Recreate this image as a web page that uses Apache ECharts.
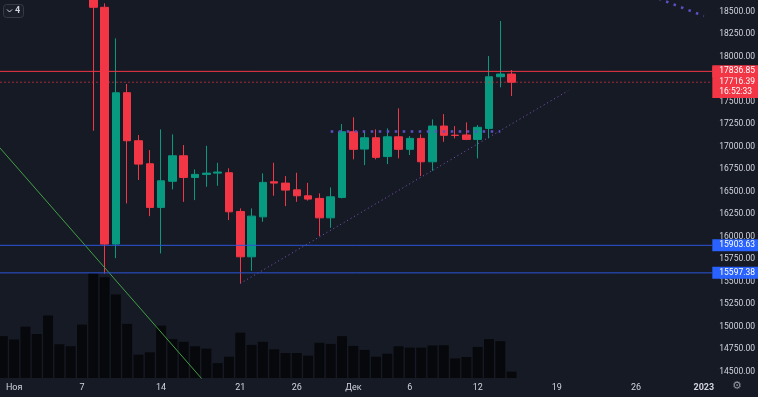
<!DOCTYPE html>
<html>
<head>
<meta charset="utf-8">
<script src="https://cdn.jsdelivr.net/npm/echarts/dist/echarts.min.js"></script>
<style>
html, body { margin: 0; padding: 0; background: #161a25; }
#chart { width: 758px; height: 397px; }
</style>
</head>
<body>
<div id="chart"></div>
<script>
var startDate = '2022-10-31';

// daily candles (earlier days sit above the visible price range)
var candleDates = [
	'2022-11-08', '2022-11-09', '2022-11-10', '2022-11-11', '2022-11-12', '2022-11-13', '2022-11-14',
	'2022-11-15', '2022-11-16', '2022-11-17', '2022-11-18', '2022-11-19', '2022-11-20', '2022-11-21',
	'2022-11-22', '2022-11-23', '2022-11-24', '2022-11-25', '2022-11-26', '2022-11-27', '2022-11-28',
	'2022-11-29', '2022-11-30', '2022-12-01', '2022-12-02', '2022-12-03', '2022-12-04', '2022-12-05',
	'2022-12-06', '2022-12-07', '2022-12-08', '2022-12-09', '2022-12-10', '2022-12-11', '2022-12-12',
	'2022-12-13', '2022-12-14', '2022-12-15'
];
var opens = [
	20600, 18549, 15917, 17600, 17066, 16810, 16325,
	16615, 16899, 16658, 16692, 16706, 16710, 16280,
	15776, 16220, 16610, 16595, 16520, 16454, 16425,
	16209, 16436, 17166, 16973, 17099, 16890, 17110,
	16970, 17092, 16832, 17229, 17128, 17130, 17081,
	17203, 17777, 17807
];
var closes = [
	18549, 15917, 17599, 17066, 16806, 16325, 16621,
	16899, 16658, 16692, 16706, 16718, 16276, 15776,
	16228, 16603, 16595, 16517, 16454, 16417, 16209,
	16443, 17166, 16970, 17099, 16881, 17110, 16970,
	17092, 16832, 17229, 17126, 17124, 17081, 17215,
	17777, 17807, 17716.39
];
var lows = [
	17177, 15590, 15761, 16369, 16629, 16228, 15813,
	16525, 16387, 16406, 16554, 16565, 16184, 15480,
	15620, 16165, 16454, 16339, 16387, 16400, 16006,
	16098, 16425, 16859, 16795, 16859, 16806, 16870,
	16907, 16673, 16732, 17054, 17092, 17073, 16870,
	17092, 17659, 17563
];
var highs = [
	20680, 18593, 18204, 17696, 17129, 16962, 17192,
	17137, 17018, 16747, 17010, 16821, 16759, 16314,
	16314, 16703, 16821, 16673, 16710, 16598, 16481,
	16547, 17251, 17326, 17166, 17192, 17203, 17426,
	17118, 17137, 17303, 17362, 17229, 17270, 17240,
	18007, 18397, 17852
];

var volumeDates = [
	'2022-10-31', '2022-11-01', '2022-11-02', '2022-11-03', '2022-11-04', '2022-11-05', '2022-11-06',
	'2022-11-07'
].concat(candleDates);
var volumes = [
	41.9, 38.5, 51.4, 44, 62.5, 33.8, 31.8,
	53.4, 104.8, 100.7, 83.5, 54.1, 23.3, 25.7,
	52.4, 38.9, 36.2, 31.8, 29.4, 14.9, 21.3,
	45.3, 33.1, 36.2, 28.7, 25, 25, 22.3,
	35.2, 34.1, 41.9, 32.1, 28.1, 21.3, 24.3,
	31.8, 30.4, 30.4, 32.5, 32.8, 19.6, 21,
	31.1, 38.9, 36.8, 6.4
];

var tickDates = ['2022-11-01', '2022-11-07', '2022-11-14', '2022-11-21', '2022-11-26', '2022-12-01',
	'2022-12-06', '2022-12-12', '2022-12-19', '2022-12-26', '2023-01-01'];
var tickLabels = ['Ноя', '7', '14', '21', '26', 'Дек', '6', '12', '19', '26', '2023'];
var priceTicks = [14500, 14750, 15000, 15250, 15500, 15750, 16000, 16250, 16500, 16750,
	17000, 17250, 17500, 18000, 18250, 18500];

var lastPrice = 17716.39;
var countdown = '16:52:33';
var resistance = 17836.85;
var supports = [15903.63, 15597.38];

// drawn trend lines
var greenLine = [['2022-10-30', 17093], ['2022-11-19', 14219]];
var riseLine = [['2022-11-21', 15480], ['2022-12-20', 17622]];
var flatLine = [['2022-11-29', 17168], ['2022-12-14', 17168]];
var fallLine = [['2022-12-28', 18645], ['2023-01-01', 18452]];

var xMin = -0.25, xMax = 62.75;

function dayIndex(d) {
	return (Date.parse(d + 'T00:00:00Z') - Date.parse(startDate + 'T00:00:00Z')) / 86400000;
}
function toPoints(line) {
	return line.map(function(p) { return [dayIndex(p[0]), p[1]]; });
}

var font = 'Roboto, "Liberation Sans", sans-serif';
var tickIdx = tickDates.map(dayIndex);

var candleData = candleDates.map(function(d, i) {
	return [dayIndex(d), opens[i], closes[i], lows[i], highs[i]];
});
var volumeData = volumeDates.map(function(d, i) {
	return [dayIndex(d), volumes[i]];
});

// horizontal price level across the pane, tag on the price scale
function level(value, color, tagColor, lineType, text, padding, lineHeight) {
	return {
		type: 'line',
		data: [[xMin, value], [xMax, value]],
		showSymbol: false,
		silent: true,
		lineStyle: { color: color, width: 1, type: lineType },
		z: 5,
		endLabel: {
			show: true,
			distance: 0,
			color: '#ffffff',
			fontFamily: font,
			fontSize: 8.5,
			lineHeight: lineHeight,
			backgroundColor: tagColor,
			padding: padding,
			formatter: text
		}
	};
}

var myChart = echarts.init(document.getElementById('chart'));

var series = [{
	name: 'Volume',
	type: 'bar',
	yAxisIndex: 1,
	barWidth: 10,
	data: volumeData,
	itemStyle: { color: 'rgba(0,0,0,0.68)' },
	z: 1
}, {
	name: 'BTCUSD',
	type: 'candlestick',
	yAxisIndex: 0,
	barWidth: 8,
	data: candleData,
	itemStyle: {
		color: '#089981',
		color0: '#f23645',
		borderColor: '#089981',
		borderColor0: '#f23645',
		borderWidth: 1
	},
	z: 3
}, {
	name: 'trend',
	type: 'line',
	data: toPoints(greenLine),
	showSymbol: false,
	lineStyle: { color: '#43a047', width: 1 },
	z: 4
}, {
	name: 'rise',
	type: 'line',
	data: toPoints(riseLine),
	showSymbol: false,
	lineStyle: { color: '#7e57c2', width: 1, type: [1, 3] },
	z: 4
}, {
	name: 'flat',
	type: 'line',
	data: toPoints(flatLine),
	showSymbol: false,
	lineStyle: { color: '#5e4fc9', width: 2.5, type: [2.5, 5.5] },
	z: 4
}, {
	name: 'fall',
	type: 'line',
	data: toPoints(fallLine),
	showSymbol: false,
	lineStyle: { color: '#5e4fc9', width: 2.5, type: [2.5, 5.5] },
	z: 4
}];

series.push(level(lastPrice, 'rgba(242,54,69,0.6)', '#f23645', [2, 2],
	'\n' + lastPrice.toFixed(2) + '\n' + countdown, [1, 12, 2, 7], 9.5));
series.push(level(resistance, '#f23645', '#f23645', 'solid',
	resistance.toFixed(2), [2, 12, 1, 7], 9));
supports.forEach(function(s) {
	series.push(level(s, '#2c55d8', '#2962ff', 'solid', s.toFixed(2), [2, 12, 1, 7], 9));
});

var option = {
	animation: false,
	backgroundColor: '#161a25',
	grid: { left: 0, top: 0, width: 715, height: 378 },
	xAxis: {
		type: 'value',
		min: xMin,
		max: xMax,
		splitLine: { show: false },
		axisLine: { show: false },
		axisTick: { show: false },
		axisLabel: {
			customValues: tickIdx,
			margin: 5,
			color: '#d1d4dc',
			fontFamily: font,
			fontSize: 9,
			formatter: function(v) {
				var i = tickIdx.indexOf(v);
				if (i < 0) return '';
				return /^\d{4}$/.test(tickLabels[i]) ? '{b|' + tickLabels[i] + '}' : tickLabels[i];
			},
			rich: { b: { fontWeight: 'bold', color: '#d1d4dc', fontFamily: font, fontSize: 9 } }
		}
	},
	yAxis: [{
		type: 'value',
		position: 'right',
		min: 14429,
		max: 18630,
		splitLine: { show: false },
		axisLine: { show: false },
		axisTick: { show: false },
		axisLabel: {
			customValues: priceTicks,
			margin: 7,
			color: '#d1d4dc',
			fontFamily: font,
			fontSize: 8.5,
			formatter: function(v) { return v.toFixed(2); }
		}
	}, {
		type: 'value',
		min: 0,
		max: 378,
		show: false
	}],
	graphic: [
		{ type: 'rect', left: 3, top: 4, shape: { width: 20, height: 13, r: 3 },
			style: { fill: '#1a1e29', stroke: '#363a45', lineWidth: 1 } },
		{ type: 'polyline', shape: { points: [[7, 9.5], [9.5, 12], [12, 9.5]] },
			style: { stroke: '#d1d4dc', lineWidth: 1, fill: null } },
		{ type: 'text', left: 15, top: 6, style: { text: '4', fill: '#d1d4dc', font: 'bold 9px ' + font } },
		{ type: 'text', left: 732, top: 381, style: { text: '⚙', fill: '#9598a1', font: '11px "DejaVu Sans"' } }
	],
	series: series
};
myChart.setOption(option);
</script>
</body>
</html>
